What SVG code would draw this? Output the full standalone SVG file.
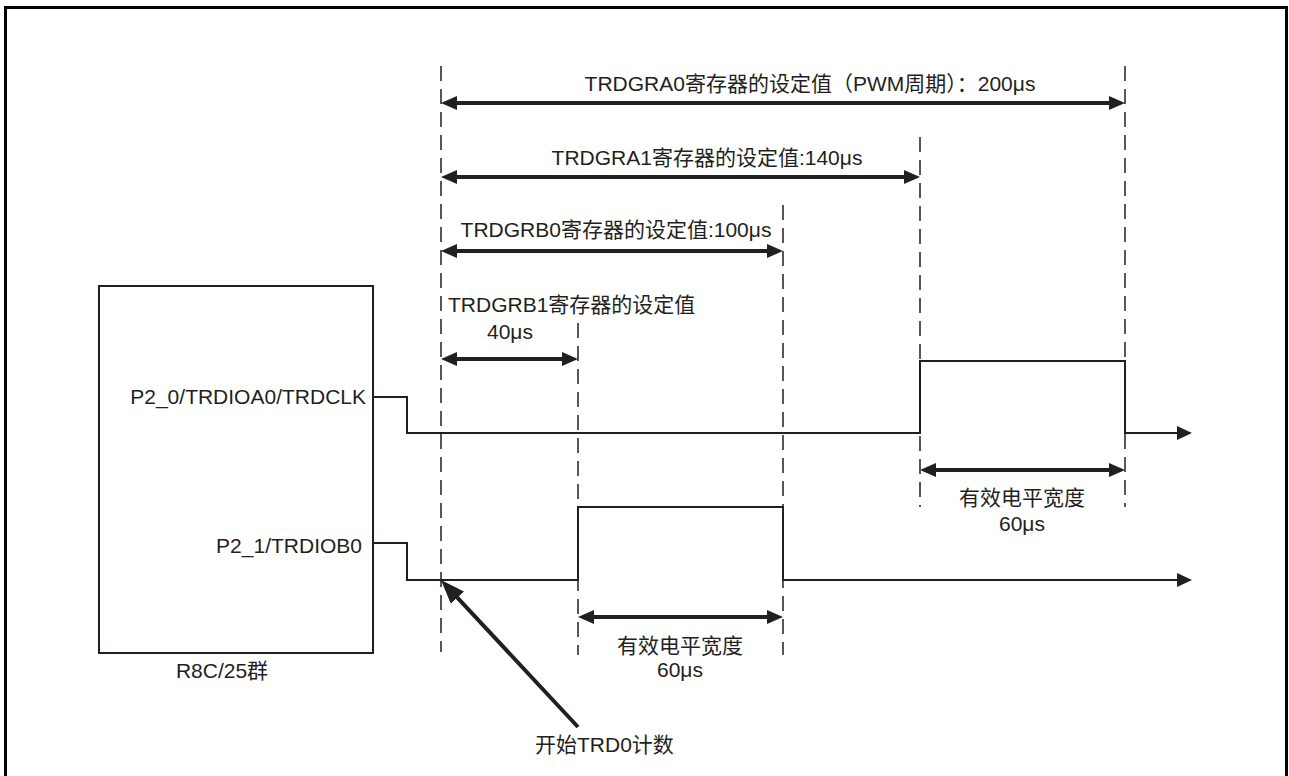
<svg xmlns="http://www.w3.org/2000/svg" width="1289" height="776" viewBox="0 0 1289 776">
<style>
text{font-family:"Liberation Sans","Noto Sans CJK SC",sans-serif;font-size:21px;fill:#231f20}
.c{text-anchor:middle}
.e{text-anchor:end}
.dash{stroke:#231f20;stroke-width:1.5;stroke-dasharray:15 8;fill:none}
.sig{stroke:#231f20;stroke-width:2;fill:none}
.dim{stroke:#231f20;stroke-width:4;fill:none;marker-start:url(#dimA);marker-end:url(#dimA)}
</style>
<defs>
<marker id="dimA" markerUnits="userSpaceOnUse" markerWidth="16" markerHeight="14" viewBox="0 0 16 14" refX="8" refY="7" orient="auto-start-reverse"><path d="M0,0 L16,7 L0,14 z" fill="#231f20"/></marker>
<marker id="sigA" markerUnits="userSpaceOnUse" markerWidth="15" markerHeight="14" viewBox="0 0 15 14" refX="1" refY="7" orient="auto"><path d="M0,0 L15,7 L0,14 z" fill="#231f20"/></marker>
<marker id="startA" markerUnits="userSpaceOnUse" markerWidth="24" markerHeight="18" viewBox="0 0 24 18" refX="12" refY="9" orient="auto"><path d="M0,0 L24,9 L0,18 z" fill="#231f20"/></marker>
</defs>
<rect x="5.5" y="7.5" width="1281" height="790" fill="none" stroke="#000" stroke-width="3"/>
<g id="mcu">
<rect x="99" y="286" width="274" height="367" fill="none" stroke="#231f20" stroke-width="2"/>
<text x="366" y="404" class="e">P2_0/TRDIOA0/TRDCLK</text>
<text x="362" y="553" class="e">P2_1/TRDIOB0</text>
<text x="222" y="678" class="c">R8C/25群</text>
</g>
<g id="guides">
<line class="dash" x1="441" y1="66" x2="441" y2="652"/>
<line class="dash" x1="578" y1="323" x2="578" y2="655"/>
<line class="dash" x1="783" y1="205" x2="783" y2="655"/>
<line class="dash" x1="920" y1="137" x2="920" y2="507"/>
<line class="dash" x1="1125" y1="66" x2="1125" y2="507"/>
</g>
<g id="connectors">
<polyline class="sig" points="373,397 407,397 407,433 920,433 920,361 1125,361 1125,433 1178,433" marker-end="url(#sigA)"/>
<polyline class="sig" points="373,543 407,543 407,580 578,580 578,507 783,507 783,580 1178,580" marker-end="url(#sigA)"/>
<line class="dim" x1="449" y1="103" x2="1117" y2="103"/>
<line class="dim" x1="449" y1="177" x2="912" y2="177"/>
<line class="dim" x1="449" y1="251" x2="775" y2="251"/>
<line class="dim" x1="449" y1="359" x2="570" y2="359"/>
<line class="dim" x1="928" y1="470" x2="1117" y2="470"/>
<line class="dim" x1="586" y1="617" x2="775" y2="617"/>
<line x1="578" y1="727" x2="449.2" y2="588.8" stroke="#231f20" stroke-width="4" marker-end="url(#startA)"/>
</g>
<g id="labels">
<text x="810" y="91" class="c">TRDGRA0寄存器的设定值（PWM周期）：200μs</text>
<text x="707" y="165" class="c">TRDGRA1寄存器的设定值:140μs</text>
<text x="616" y="237" class="c">TRDGRB0寄存器的设定值:100μs</text>
<text x="448" y="312">TRDGRB1寄存器的设定值</text>
<text x="510" y="339" class="c">40μs</text>
<text x="1022" y="505" class="c">有效电平宽度</text>
<text x="1022" y="531" class="c">60μs</text>
<text x="680" y="653" class="c">有效电平宽度</text>
<text x="680" y="677" class="c">60μs</text>
<text x="535" y="752">开始TRD0计数</text>
</g>
</svg>
